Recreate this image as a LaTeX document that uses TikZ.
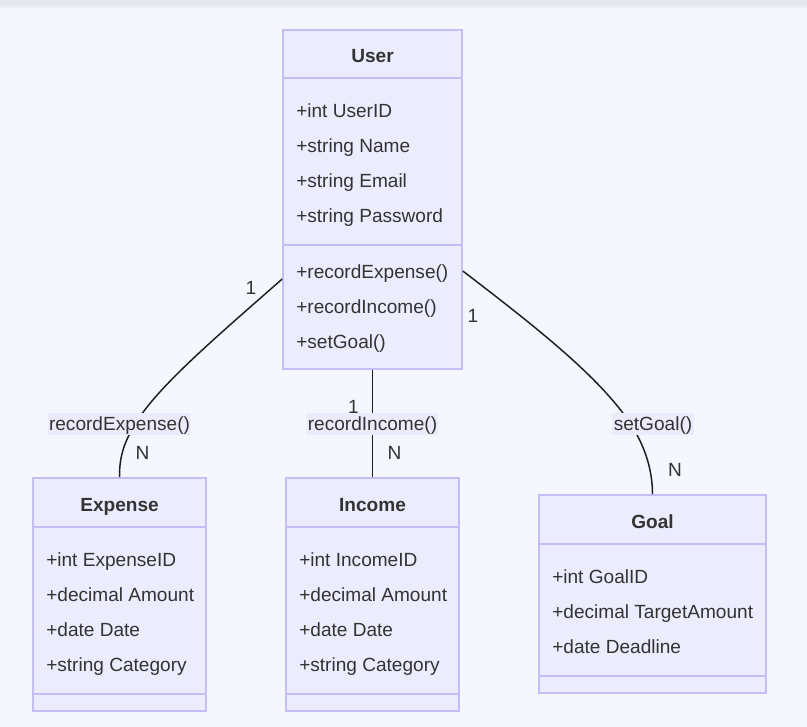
\documentclass[tikz,border=0pt]{standalone}
\usepackage{fontspec}
\setmainfont{Liberation Sans}
\definecolor{pagebg}{HTML}{F5F7FE}
\definecolor{topbar}{HTML}{E4E6EC}
\definecolor{boxfill}{HTML}{ECECFF}
\definecolor{boxline}{HTML}{C0C0F6}
\definecolor{txt}{HTML}{333333}
\definecolor{edgecol}{HTML}{1E1E1E}
\definecolor{labelbg}{HTML}{EBEBFB}
\begin{document}
\begin{tikzpicture}[x=0.75pt,y=-0.75pt,
  classbox/.style={draw=boxline, fill=boxfill, line width=1.2pt, rectangle, inner sep=0pt},
  divider/.style={draw=boxline, line width=1.2pt},
  titletext/.style={font=\fontsize{14.3}{17}\selectfont\bfseries, text=txt, anchor=base, inner sep=0pt},
  member/.style={font=\fontsize{14.3}{17}\selectfont, text=txt, anchor=base west, inner sep=0pt},
  rel/.style={draw=edgecol, line width=1.1pt},
  elabel/.style={font=\fontsize{14.3}{17}\selectfont, text=txt, fill=labelbg, anchor=base, inner sep=0pt, inner xsep=1pt, text height=12.9pt, text depth=3pt},
  mult/.style={font=\fontsize{14.3}{17}\selectfont, text=txt, anchor=base, inner sep=0pt}]
\useasboundingbox (0,0) rectangle (807,727);
\fill[pagebg] (0,0) rectangle (807,727);
\fill[topbar] (0,0) rectangle (807,4);
\shade[top color=topbar, bottom color=pagebg] (0,4) rectangle (807,9);

% class boxes
\node[classbox, minimum width=134.25pt, minimum height=254.25pt] (user) at (372.5,199.5) {};
\node[classbox, minimum width=129.75pt, minimum height=174.75pt] (expense) at (119.5,594.5) {};
\node[classbox, minimum width=129.75pt, minimum height=174.75pt] (income) at (372.5,594.5) {};
\node[classbox, minimum width=170.25pt, minimum height=148.5pt] (goal) at (652.5,594) {};

% dividers
\draw[divider] (user.west |- 0,78) -- (user.east |- 0,78);
\draw[divider] (user.west |- 0,245) -- (user.east |- 0,245);
\draw[divider] (expense.west |- 0,527) -- (expense.east |- 0,527);
\draw[divider] (expense.west |- 0,694) -- (expense.east |- 0,694);
\draw[divider] (income.west |- 0,527) -- (income.east |- 0,527);
\draw[divider] (income.west |- 0,694) -- (income.east |- 0,694);
\draw[divider] (goal.west |- 0,544) -- (goal.east |- 0,544);
\draw[divider] (goal.west |- 0,676) -- (goal.east |- 0,676);

% User texts
\node[titletext] (user-t) at (372.5,63) {User};
\node[member] (user-a1) at (296,117.5) {+int UserID};
\node[member] (user-a2) at (296,153) {+string Name};
\node[member] (user-a3) at (296,188) {+string Email};
\node[member] (user-a4) at (296,223) {+string Password};
\node[member] (user-m1) at (296,279) {+recordExpense()};
\node[member] (user-m2) at (296,314) {+recordIncome()};
\node[member] (user-m3) at (296,349) {+setGoal()};

% Expense texts
\node[titletext] (exp-t) at (119.5,511) {Expense};
\node[member] (exp-a1) at (46,566) {+int ExpenseID};
\node[member] (exp-a2) at (46,601) {+decimal Amount};
\node[member] (exp-a3) at (46,636) {+date Date};
\node[member] (exp-a4) at (46,671) {+string Category};

% Income texts
\node[titletext] (inc-t) at (372.5,511) {Income};
\node[member] (inc-a1) at (299,566) {+int IncomeID};
\node[member] (inc-a2) at (299,601) {+decimal Amount};
\node[member] (inc-a3) at (299,636) {+date Date};
\node[member] (inc-a4) at (299,671) {+string Category};

% Goal texts
\node[titletext] (goal-t) at (652.5,528) {Goal};
\node[member] (goal-a1) at (552,583) {+int GoalID};
\node[member] (goal-a2) at (552,618) {+decimal TargetAmount};
\node[member] (goal-a3) at (552,653) {+date Deadline};

% connectors
\coordinate (u1) at (user.west |- 0,279);
\coordinate (u3) at (user.east |- 0,271);
\draw[rel] (u1) .. controls (215,338) and (160,385) .. (137,421) .. controls (121,446) and (119.5,462) .. (expense.north);
\draw[rel] (user.south) -- (income.north);
\draw[rel] (u3) .. controls (540,330) and (600,378) .. (630,423) .. controls (645,446) and (652.5,470) .. (goal.north);

% edge labels
\node[elabel] (l1) at (119.5,430.5) {recordExpense()};
\node[elabel] (l2) at (372.5,430.5) {recordIncome()};
\node[elabel] (l3) at (653,430.5) {setGoal()};

% multiplicities
\node[mult] (m1a) at (251,295) {1};
\node[mult] (m1b) at (142.5,459) {N};
\node[mult] (m2a) at (353.5,413) {1};
\node[mult] (m2b) at (394.5,459) {N};
\node[mult] (m3a) at (473,323) {1};
\node[mult] (m3b) at (675,476) {N};
\end{tikzpicture}
\end{document}
